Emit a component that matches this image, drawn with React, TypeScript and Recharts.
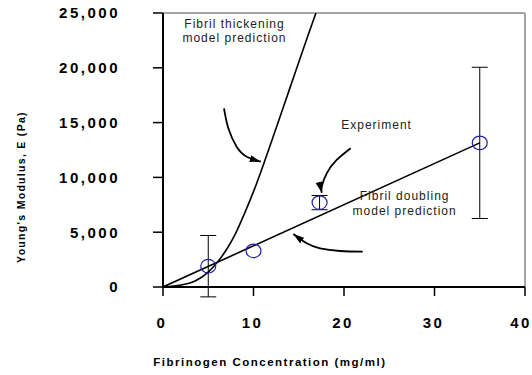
import React from 'react';
import {
  ComposedChart,
  Line,
  Scatter,
  XAxis,
  YAxis,
  ErrorBar,
  ReferenceLine,
  ReferenceDot,
  Label,
} from 'recharts';

// ---- data ----
const xTicks = [0, 10, 20, 30, 40];
const yTicks = [0, 5000, 10000, 15000, 20000, 25000];

// Experiment points (mean, symmetric error)
const expX = [5, 10, 17.3, 35];
const expY = [1900, 3300, 7700, 13150];
const expErr: (number | null)[] = [2800, null, 650, 6900];

// Fibril thickening model prediction
const thickX = [0, 2, 3.5, 5, 6, 7, 8, 9, 10, 12, 14, 16, 16.9];
const thickY = [0, 190, 520, 1350, 2250, 3400, 4850, 6700, 8700, 13300, 18100, 22900, 25000];

// Fibril doubling model prediction
const doubleX = [0, 35];
const doubleY = [0, 13150];

// annotation arrows (data coordinates)
const arrow1X = [6.74, 7.22, 8.14, 9.25, 10.8];
const arrow1Y = [16300, 14480, 12800, 11890, 11430];
const arrow2X = [20.74, 19.19, 18.09, 17.54, 17.54];
const arrow2Y = [12660, 11590, 10370, 9150, 8600];
const arrow3X = [22.07, 19.56, 17.35, 15.88, 14.4];
const arrow3Y = [3220, 3285, 3530, 3990, 4840];

// annotation texts
const noteText = ['Fibril thickening', 'model prediction', 'Experiment', 'Fibril doubling', 'model prediction'];
const noteX = [7.9, 7.9, 23.6, 26.7, 26.7];
const noteY = [24000, 22780, 14780, 8300, 6930];

const xTitle = 'Fibrinogen Concentration (mg/ml)';
const yTitle = "Young's Modulus, E (Pa)";

const zip = (xs: number[], ys: (number | null)[]) => xs.map((x, i) => ({ x, y: ys[i] }));

const expData = expX.map((x, i) => ({ x, y: expY[i], err: expErr[i] }));
const thickData = zip(thickX, thickY);
const doubleData = zip(doubleX, doubleY);
const arrow1 = zip(arrow1X, arrow1Y);
const arrow2 = zip(arrow2X, arrow2Y);
const arrow3 = zip(arrow3X, arrow3Y);

const FONT = '"Liberation Sans", Arial, Helvetica, sans-serif';

const XLabelContent = (props: any) => {
  const vb = props.viewBox || { x: 0, y: 0 };
  return (
    <text
      x={vb.x - 9.7}
      y={vb.y + 78.7}
      textAnchor="start"
      fill="#000"
      fontFamily={FONT}
      fontWeight="bold"
      fontSize={11.5}
      style={{ letterSpacing: '1.5px' }}
    >
      {xTitle}
    </text>
  );
};

const YLabelContent = (props: any) => {
  const vb = props.viewBox || { x: 0, y: 0 };
  const x = vb.x + 25;
  const y = vb.y + 174;
  return (
    <text
      x={x}
      y={y}
      transform={`rotate(-90, ${x}, ${y})`}
      textAnchor="middle"
      fill="#000"
      fontFamily={FONT}
      fontWeight="bold"
      fontSize={10.5}
      style={{ letterSpacing: '1.3px' }}
    >
      {yTitle}
    </text>
  );
};

const Ring = (props: any) => {
  const { cx, cy } = props;
  if (cx == null || cy == null) return null;
  return <ellipse cx={cx} cy={cy} rx={7.5} ry={6.8} fill="none" stroke="#1f1fa8" strokeWidth={1.2} />;
};

const tickStyle = {
  fill: '#000',
  fontSize: 15,
  fontWeight: 'bold',
  fontFamily: FONT,
  letterSpacing: '2.5px',
};

export default function App() {
  return (
    <>
      <style>{'html, body { margin: 0; padding: 0; overflow: hidden; }'}</style>
      <ComposedChart
        width={532}
        height={375}
        margin={{ top: 13, right: 7, bottom: 0, left: 0 }}
      >
        <defs>
          <marker
            id="arrowHead"
            markerUnits="userSpaceOnUse"
            markerWidth={12}
            markerHeight={8}
            refX={11}
            refY={3.5}
            orient="auto"
          >
            <path d="M0,0 L11,3.5 L0,7 Z" fill="#000" />
          </marker>
        </defs>
        <XAxis
          type="number"
          dataKey="x"
          domain={[0, 40]}
          ticks={xTicks}
          allowDataOverflow
          height={88}
          tickSize={9}
          tickMargin={21}
          axisLine={{ stroke: '#000', strokeWidth: 2 }}
          tickLine={{ stroke: '#000', strokeWidth: 1.5 }}
          tick={{ ...tickStyle, dx: -1 }}
        >
          <Label content={XLabelContent} />
        </XAxis>
        <YAxis
          type="number"
          dataKey="y"
          domain={[0, 25000]}
          ticks={yTicks}
          allowDataOverflow
          width={163}
          tickSize={10}
          tickMargin={33}
          axisLine={{ stroke: '#000', strokeWidth: 2 }}
          tickLine={{ stroke: '#000', strokeWidth: 1.5 }}
          tick={tickStyle}
          tickFormatter={(v: number) => v.toLocaleString('en-US')}
        >
          <Label content={YLabelContent} />
        </YAxis>
        <ReferenceLine y={25000} stroke="#a6a6a6" strokeWidth={2} />
        <ReferenceLine x={40} stroke="#a6a6a6" strokeWidth={2} />

        <Line
          data={thickData}
          dataKey="y"
          type="monotone"
          stroke="#000"
          strokeWidth={1.6}
          dot={false}
          activeDot={false}
          isAnimationActive={false}
        />
        <Line
          data={doubleData}
          dataKey="y"
          type="linear"
          stroke="#000"
          strokeWidth={1.6}
          dot={false}
          activeDot={false}
          isAnimationActive={false}
        />
        {[arrow1, arrow2, arrow3].map((d, i) => (
          <Line
            key={`arrow-${i}`}
            data={d}
            dataKey="y"
            type="natural"
            stroke="#000"
            strokeWidth={1.8}
            dot={false}
            activeDot={false}
            markerEnd="url(#arrowHead)"
            isAnimationActive={false}
          />
        ))}
        <Scatter data={expData} shape={<Ring />} isAnimationActive={false}>
          <ErrorBar dataKey="err" direction="y" width={8} stroke="#000" strokeWidth={1} />
        </Scatter>

        {noteText.map((t, i) => (
          <ReferenceDot
            key={`note-${i}`}
            x={noteX[i]}
            y={noteY[i]}
            r={0}
            fill="none"
            stroke="none"
            ifOverflow="visible"
          >
            <Label
              value={t}
              position="center"
              fill="#222"
              fontSize={12}
              fontFamily={FONT}
              style={{ letterSpacing: '1px' }}
            />
          </ReferenceDot>
        ))}
      </ComposedChart>
    </>
  );
}
